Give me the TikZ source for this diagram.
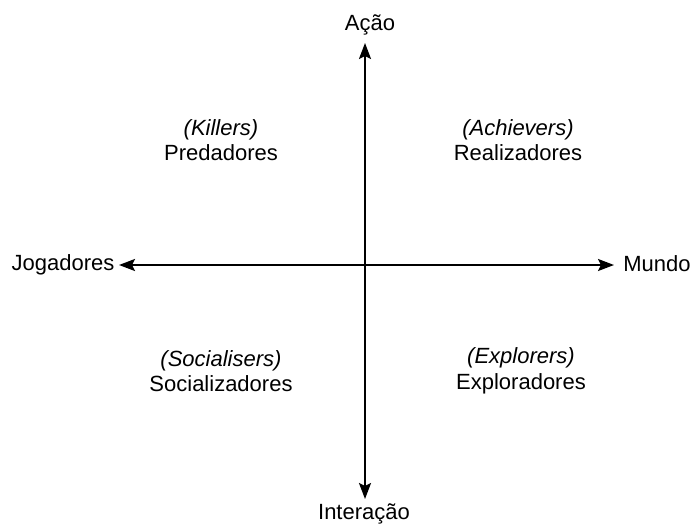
\documentclass[tikz,border=0pt]{standalone}
\usepackage{fontspec}
\setmainfont{Liberation Sans}
\usetikzlibrary{arrows.meta}
\tikzset{
  axis/.style={line width=2.2pt, {Stealth[length=16pt, width=12pt, inset=3pt]}-{Stealth[length=16pt, width=12pt, inset=3pt]}},
  label/.style={font=\fontsize{22}{25.5}\selectfont, align=center, inner sep=0pt}
}

\begin{document}
\begin{tikzpicture}[x=1pt, y=-1pt]
    \useasboundingbox (0,0) rectangle (692,524);
    \node[label] (acao) at (370, 25){Ação};
    \node[label] (interacao) at (364, 514){Interação};
    \node[label] (jogadores) at (63, 265){Jogadores};
    \node[label] (mundo) at (657, 264){Mundo};
    \coordinate (top) at (365, 43);
    \coordinate (bottom) at (365, 499);
    \coordinate (left) at (119, 265);
    \coordinate (right) at (614, 265);
    \draw[axis] (bottom)--(top);
    \draw[axis] (left)--(right);
    \node[label] (killers) at (221, 140){\textit{(Killers)}\\Predadores};
    \node[label] (achievers) at (518, 140){\textit{(Achievers)}\\Realizadores};
    \node[label] (socialisers) at (221, 371){\textit{(Socialisers)}\\Socializadores};
    \node[label] (explorers) at (521, 371){\textit{(Explorers)}\\Exploradores};
  \end{tikzpicture}
\end{document}
